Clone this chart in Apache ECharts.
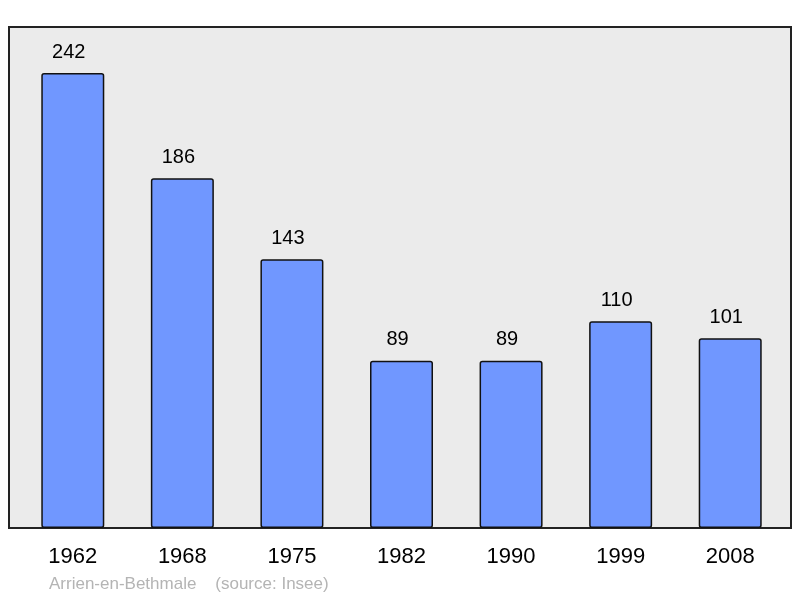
<!DOCTYPE html>
<html>
<head>
<meta charset="utf-8">
<script src="https://cdn.jsdelivr.net/npm/echarts@6/dist/echarts.min.js"></script>
<style>html,body{margin:0;padding:0;background:#fff;}#c{width:800px;height:598px;}</style>
</head>
<body>
<div id="c"></div>
<script>
var years = ['1962', '1968', '1975', '1982', '1990', '1999', '2008'];
var population = [242, 186, 143, 89, 89, 110, 101];
var footer = 'Arrien-en-Bethmale    (source: Insee)';

var chart = echarts.init(document.getElementById('c'), null, {renderer: 'canvas'});
chart.setOption({
  animation: false,
  backgroundColor: '#ffffff',
  textStyle: {fontFamily: 'Liberation Sans, Arial, sans-serif'},
  grid: [
    {left: 9, top: 27, width: 782, height: 501, show: true, backgroundColor: '#ebebeb', borderColor: '#222', borderWidth: 2},
    {left: 18, top: 27, width: 767, height: 501, show: false}
  ],
  xAxis: [
    {gridIndex: 0, type: 'value', min: 0, max: 1, show: false},
    {gridIndex: 1, type: 'category', data: years, boundaryGap: true,
     axisLine: {show: false}, axisTick: {show: false},
     axisLabel: {color: '#000', fontSize: 22, margin: 18, fontFamily: 'Liberation Sans, Arial, sans-serif'}}
  ],
  yAxis: [
    {gridIndex: 0, type: 'value', min: 0, max: 1, show: false},
    {gridIndex: 1, type: 'value', min: 0, max: 266.5, show: false}
  ],
  series: [{
    type: 'bar', xAxisIndex: 1, yAxisIndex: 1,
    data: population, barWidth: 63,
    itemStyle: {color: '#7097ff', borderColor: '#111', borderWidth: 1.5, borderRadius: 2},
    label: {show: true, position: 'top', distance: 11, offset: [-4, 0], color: '#000', fontSize: 20, fontFamily: 'Liberation Sans, Arial, sans-serif'}
  }],
  graphic: [{
    type: 'text', left: 49, top: 576,
    style: {text: footer, fill: '#b4b4b4', fontSize: 17, fontFamily: 'Liberation Sans, Arial, sans-serif'}
  }]
});
</script>
</body>
</html>
